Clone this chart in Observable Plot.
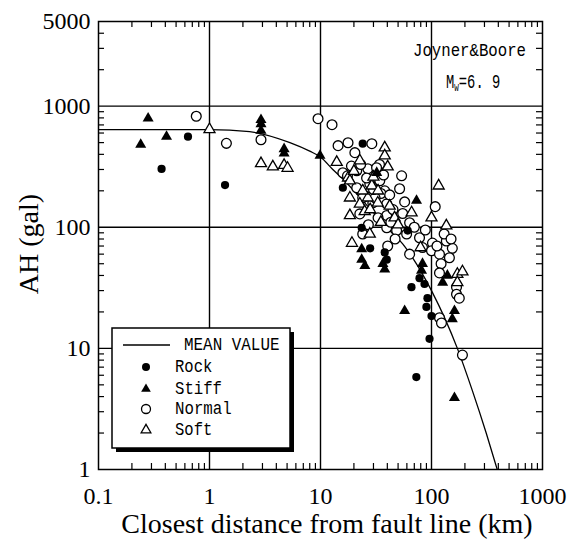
<!DOCTYPE html>
<html><head><meta charset="utf-8">
<script src="https://cdn.jsdelivr.net/npm/d3@7"></script>
<script src="https://cdn.jsdelivr.net/npm/@observablehq/plot@0.6"></script>
<style>body{margin:0;background:#fff} svg{display:block}</style>
</head><body><div id="chart"></div>
<script>
// Mean value curve (Joyner & Boore, Mw=6.9)
const meanD = [0.1, 0.5, 1, 2.3, 5.3, 8, 10, 12.9, 15.9, 20, 30, 42, 55, 67.6, 100, 171, 233, 311, 391];
const meanA = [640, 640, 640, 615, 500, 425, 380, 300, 250, 200, 132, 94, 73, 56, 30, 10, 4.5, 2, 1];

// Rock (filled circles)
const rockD = [0.37, 0.64, 1.38, 24, 15.9, 23.5, 28, 37.9, 39.5, 61, 66, 86.5, 78, 92, 90, 100, 96, 73];
const rockA = [303, 560, 223, 490, 212, 99, 67, 62, 54, 94, 32, 34, 38, 26, 22, 18.5, 12, 5.8];

// Stiff (filled triangles)
const stiffD = [0.28, 0.24, 0.41, 2.91, 2.91, 2.91, 4.7, 4.7, 9.9, 32.1, 73.3, 23.5, 23.5, 25.1, 36.5, 37.9, 83, 81.3, 126, 139, 161, 154, 57.3, 161];
const stiffA = [793, 481, 560, 770, 713, 628, 443, 408, 390, 282, 166, 66, 54, 48, 50, 45, 50, 44, 35, 40, 20.4, 17.5, 20.4, 3.9];

// Normal (open circles)
const normalD = [0.76, 1.42, 2.91, 9.5, 12.7, 14.4, 17.7, 29, 20.4, 15.9, 21.2, 26.7, 34.2, 37.9, 27.8, 21.2, 24, 39.5, 53.8, 51.6, 57.3, 29.6, 22.6, 39.5, 39.5, 24, 40.3, 63.5, 63.5, 78, 83, 108, 102, 100, 118, 122, 118, 154, 136, 145, 48.5, 59.7, 168, 168, 178, 118, 123, 190, 17.5, 34, 35, 31, 45, 43, 33, 27, 47, 30, 19, 26, 23, 32, 37, 42, 55, 70, 88, 112, 130, 150];
const normalA = [825, 493, 528, 788, 703, 472, 499, 490, 413, 282, 293, 304, 242, 200, 229, 212, 175, 156, 266, 208, 162, 159, 129, 125, 99, 88, 70, 109, 60, 82, 68, 148, 74, 64, 60, 50, 42, 67, 77, 56, 94, 88, 32, 28, 26, 17.9, 16.2, 8.8, 266, 330, 190, 175, 140, 110, 120, 105, 80, 205, 320, 255, 330, 310, 270, 185, 130, 100, 95, 70, 88, 80];

// Soft (open triangles)
const softD = [1.0, 2.91, 3.72, 4.7, 5.05, 14, 22.6, 37.9, 37.9, 40.3, 17.7, 18.4, 22.6, 26.7, 18.4, 32.8, 46.5, 27.8, 19.2, 66.2, 116, 100, 136, 171, 190, 171, 79.6, 18.4, 24, 29, 30, 25, 35, 42, 50, 33, 20, 28];
const softA = [643, 336, 316, 325, 308, 344, 355, 454, 390, 316, 256, 175, 156, 175, 125, 159, 120, 88, 74, 132, 220, 120, 103, 41, 43, 35, 68, 242, 200, 220, 260, 135, 110, 150, 105, 200, 290, 140];

const xLabels = [0.1, 1, 10, 100, 1000];
const yLabels = [1, 10, 100, 1000];
const yTopLabel = [5000];
const xGrid = [1, 10, 100];
const yGrid = [10, 100, 1000];
const xMinor = [0.1, 1, 10, 100].flatMap(p => [2,3,4,5,6,7,8,9].map(k => +(p * k).toPrecision(3)));
const yMinor = [1, 10, 100, 1000].flatMap(p => [2,3,4,5,6,7,8,9].map(k => p * k)).filter(v => v < 5000);

const pts = (ds, as) => ds.map((d, i) => ({d, a: as[i]}));
const mean = pts(meanD, meanA);
const rock = pts(rockD, rockA);
const stiff = pts(stiffD, stiffA);
const normal = pts(normalD, normalA);
const soft = pts(softD, softA);

const serif = "'Liberation Serif', 'Times New Roman', serif";
const mono = "'Liberation Mono', 'DejaVu Sans Mono', monospace";

const tx = Math.pow(10, 6 / 111), ty = Math.pow(10, 6 / 121);

const plot = Plot.plot({
  width: 567, height: 539,
  marginLeft: 98, marginRight: 25, marginTop: 21, marginBottom: 70,
  x: {type: "log", domain: [0.1, 1000]},
  y: {type: "log", domain: [1, 5000]},
  style: {fontFamily: serif, fontSize: "24px", background: "white", color: "black"},
  marks: [
    Plot.ruleX(xGrid, {stroke: "black", strokeWidth: 1.4}),
    Plot.ruleY(yGrid, {stroke: "black", strokeWidth: 1.4}),
    Plot.ruleX(xMinor, {y1: 1, y2: ty, stroke: "black", strokeWidth: 1.2}),
    Plot.ruleX(xMinor, {y1: 5000 / ty, y2: 5000, stroke: "black", strokeWidth: 1.2}),
    Plot.ruleY(yMinor, {x1: 0.1, x2: 0.1 * tx, stroke: "black", strokeWidth: 1.2}),
    Plot.ruleY(yMinor, {x1: 1000 / tx, x2: 1000, stroke: "black", strokeWidth: 1.2}),
    Plot.line(mean, {x: "d", y: "a", curve: "monotone-x", stroke: "black", strokeWidth: 1.3, clip: true}),
    Plot.dot(normal, {x: "d", y: "a", r: 4.9, stroke: "black", fill: "white", strokeWidth: 1.3}),
    Plot.dot(soft, {x: "d", y: "a", symbol: "triangle", r: 4.1, stroke: "black", fill: "white", strokeWidth: 1.3}),
    Plot.dot(rock, {x: "d", y: "a", r: 4.1, fill: "black", stroke: "none"}),
    Plot.dot(stiff, {x: "d", y: "a", symbol: "triangle", r: 4.1, fill: "black", stroke: "none"}),
    Plot.frame({stroke: "black", strokeWidth: 1.5}),
    Plot.axisX({ticks: xLabels, tickSize: 0, tickPadding: 17, tickFormat: d => String(d), label: null, fontSize: 24}),
    Plot.axisY({ticks: yLabels, tickSize: 0, tickPadding: 8, tickFormat: d => String(d), label: null, fontSize: 24}),
    Plot.text(yTopLabel, {y: d => d, frameAnchor: "left", dx: -8, textAnchor: "end", text: d => String(d), fontSize: 24, fill: "black"})
  ]
});

document.getElementById("chart").appendChild(plot);
const svg = d3.select(plot);

// Axis titles
svg.append("text").attr("x", 327).attr("y", 533).attr("text-anchor", "middle")
  .attr("font-family", serif).attr("font-size", 28).attr("fill", "black")
  .text("Closest distance from fault line (km)");
svg.append("text").attr("transform", "translate(38,244) rotate(-90)").attr("text-anchor", "middle")
  .attr("font-family", serif).attr("font-size", 28).attr("fill", "black")
  .text("AH (gal)");

// Annotation
svg.append("text").attr("x", 413).attr("y", 56).attr("text-anchor", "start").attr("font-family", mono).attr("font-size", 18)
  .attr("textLength", 113).attr("lengthAdjust", "spacingAndGlyphs").attr("fill", "black")
  .text("Joyner&Boore");
const mw = svg.append("text").attr("transform", "translate(446,88) scale(0.69,1)").attr("text-anchor", "start")
  .attr("font-family", mono).attr("font-size", 20).attr("fill", "black");
mw.append("tspan").text("M");
mw.append("tspan").attr("font-size", 11).attr("dy", 3).text("W");
mw.append("tspan").attr("dy", -3).text("=6. 9");

// Legend
const lg = svg.append("g").attr("text-anchor", "start");
lg.append("rect").attr("x", 116).attr("y", 332).attr("width", 178).attr("height", 120).attr("fill", "black");
lg.append("rect").attr("x", 112).attr("y", 328).attr("width", 178).attr("height", 120)
  .attr("fill", "white").attr("stroke", "black").attr("stroke-width", 1.5);
lg.append("line").attr("x1", 123).attr("x2", 170).attr("y1", 345).attr("y2", 345).attr("stroke", "black").attr("stroke-width", 1.3);
const items = [
  {label: "MEAN VALUE", x: 184, y: 345},
  {label: "Rock", x: 175, y: 367},
  {label: "Stiff", x: 175, y: 389},
  {label: "Normal", x: 175, y: 409},
  {label: "Soft", x: 175, y: 430}
];
items.forEach(it => {
  lg.append("text").attr("x", it.x).attr("y", it.y).attr("dominant-baseline", "central")
    .attr("text-anchor", "start")
    .attr("font-family", mono).attr("font-size", 19).attr("fill", "black")
    .attr("textLength", it.label.length * 9.7 - 1.5).attr("lengthAdjust", "spacingAndGlyphs")
    .text(it.label);
});
const tri = d3.symbol(d3.symbolTriangle, Math.PI * 3.6 * 3.6)();
lg.append("circle").attr("cx", 146).attr("cy", 367).attr("r", 4).attr("fill", "black");
lg.append("path").attr("d", tri).attr("transform", "translate(146,389)").attr("fill", "black");
lg.append("circle").attr("cx", 146).attr("cy", 409).attr("r", 4.5).attr("fill", "white").attr("stroke", "black").attr("stroke-width", 1.3);
lg.append("path").attr("d", tri).attr("transform", "translate(146,430)").attr("fill", "white").attr("stroke", "black").attr("stroke-width", 1.3);
</script>
</body></html>
